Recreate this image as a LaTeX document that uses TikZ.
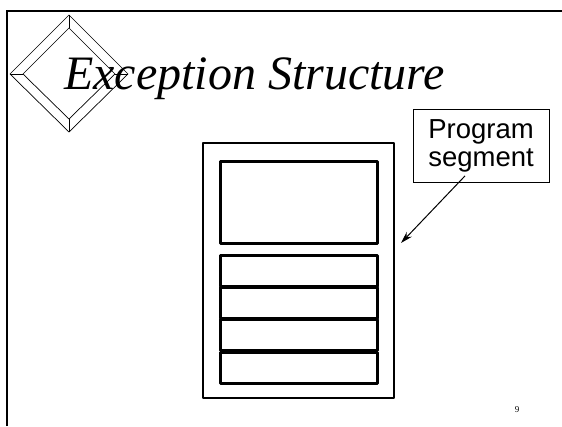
\documentclass[tikz,border=0pt]{standalone}
\usepackage{fontspec}
\setmainfont{Liberation Serif}
\newfontfamily\calloutfont{Liberation Sans}
\usetikzlibrary{positioning,arrows.meta}

\tikzset{
  segbox/.style={line width=3pt, line join=round},
  frameline/.style={line width=2pt},
  bevel/.style={line width=0.7pt}
}

\begin{document}
\begin{tikzpicture}[x=1pt, y=-1pt]
            \useasboundingbox (0,0) rectangle (562,426);
            % slide frame
            \draw[frameline] (7,426) -- (7,11) -- (562,11);

            % bevelled diamond
            \draw[bevel] (69,15) -- (128,74) -- (69,132) -- (10,74) -- cycle;
            \draw[bevel] (69,28) -- (115,74) -- (69,119) -- (23,74) -- cycle;
            \draw[bevel] (69,15) -- (69,28);
            \draw[bevel] (128,74) -- (115,74);
            \draw[bevel] (69,132) -- (69,119);
            \draw[bevel] (10,74) -- (23,74);

            \node[anchor=base west, inner sep=0pt, font=\fontsize{48}{52}\selectfont\itshape]
                (title) at (64,89) {Exception Structure};

            % program segment
            \draw[frameline, line join=round] (203,143) rectangle (394,398);
            \draw[segbox] (220,161) rectangle (377,243);
            \foreach \y in {0,1,2,3}
                \draw[segbox] (220,255+32.4*\y) rectangle (377,286+32.4*\y);

            \node[draw, line width=0.8pt, minimum width=136pt, minimum height=73pt,
                  inner sep=2pt, align=center, font=\calloutfont\fontsize{27.5}{28.5}\selectfont]
                (callout) at (481,146) {Program\\segment};
            \coordinate (tip) at (401,243);
            \draw[line width=1pt, -{Stealth[length=12pt, width=7pt]}]
                ([shift={(-16,-7)}]callout.south) -- (tip);

            \node[font=\fontsize{9}{10}\selectfont] (pagenum) at (517,410) {9};
\end{tikzpicture}
\end{document}
